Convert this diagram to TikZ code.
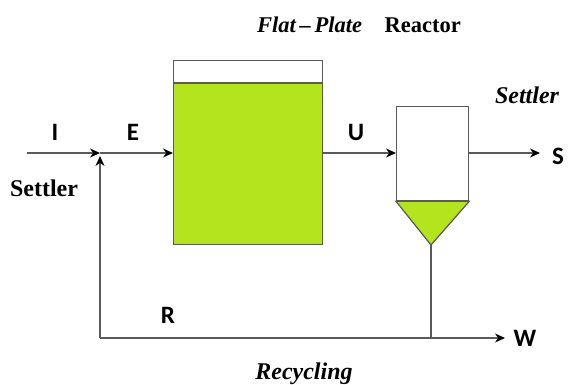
\documentclass[tikz,border=0pt]{standalone}
\usepackage{fontspec}
\setmainfont{Liberation Serif}
\newfontfamily\lblfont{Carlito}
\usetikzlibrary{arrows.meta}
\definecolor{algae}{HTML}{B4E41E}
\definecolor{pipe}{HTML}{5A5A5A}
\tikzset{
    vessel/.style={draw=pipe, line width=1.3pt, inner sep=0pt},
    pipeline/.style={pipe, line width=1.2pt},
    flow/.style={pipeline, -{Stealth[length=10pt,width=9pt,color=black]}},
    stream/.style={font=\lblfont\bfseries\fontsize{25}{25}\selectfont, text=black},
    caption/.style={font=\bfseries\fontsize{24}{24}\selectfont}
}

\begin{document}
\begin{tikzpicture}[x=1pt,y=-1pt]
    \useasboundingbox (0,0) rectangle (582,385);
    % flat-plate reactor
    \node[vessel, fill=algae, minimum width=149pt, minimum height=161pt, anchor=north west] (pbr) at (173,83) {};
    \node[vessel, fill=white, minimum width=149pt, minimum height=22pt, anchor=south west] (head) at (pbr.north west) {};
    % settler
    \node[vessel, fill=white, minimum width=72pt, minimum height=94pt, anchor=north west] (tank) at (396,106) {};
    \coordinate (apex) at (431,245);
    \filldraw[pipeline, fill=algae] (tank.south west) -- (apex) -- (tank.south east) -- cycle;
    % stream points
    \coordinate (in) at (27,153);
    \coordinate (mix) at (100,153);
    \coordinate (loop) at (100,338);
    \coordinate (tap) at (431,338);
    \coordinate (waste) at (505,338);
    \coordinate (out) at (540,153);
    \draw[flow] (in) -- (mix);
    \draw[flow] (mix) -- (mix -| pbr.west);
    \draw[flow] (pbr.east |- mix) -- (mix -| tank.west);
    \draw[flow] (tank.east |- mix) -- (out);
    \draw[pipeline] (apex) -- (tap);
    \draw[flow, shorten >=3pt] (loop) -- (mix);
    \draw[flow] (loop) -- (waste);
    % labels
    \node[stream] (lblI) at (55,132) {I};
    \node[stream] (lblE) at (133,132) {E};
    \node[stream] (lblU) at (356,132) {U};
    \node[stream] (lblS) at (558,156) {S};
    \node[stream] (lblW) at (525,338) {W};
    \node[stream] (lblR) at (168,315) {R};
    \node[caption, font=\bfseries\fontsize{22.5}{22.5}\selectfont] (title) at (359,25) {\itshape Flat\,--\,Plate\quad\upshape Reactor};
    \node[caption] (sleft) at (44,188) {Settler};
    \node[caption] (sright) at (527,95) {\itshape Settler};
    \node[caption] (recyc) at (304,374) {\itshape Recycling};
\end{tikzpicture}
\end{document}
